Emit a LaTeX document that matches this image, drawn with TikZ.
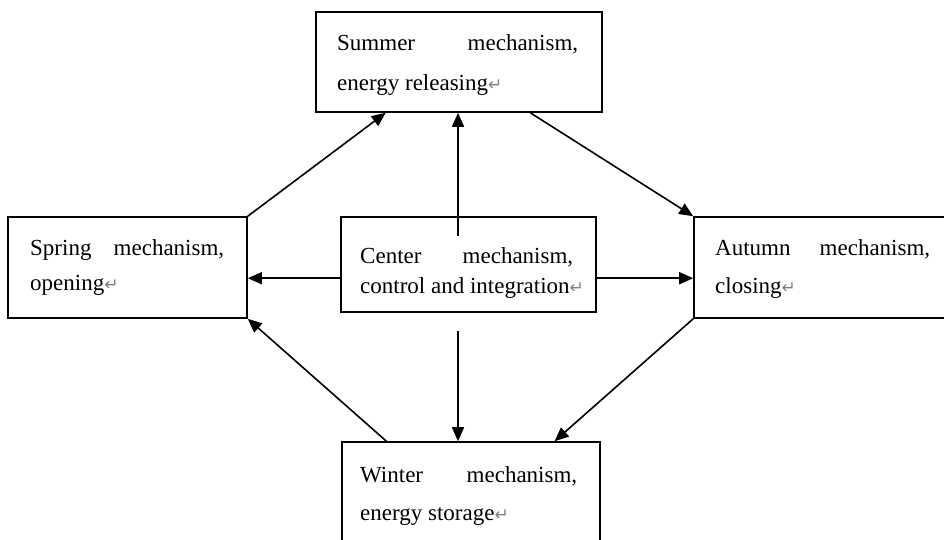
\documentclass[tikz,border=0pt]{standalone}
\usepackage{fontspec}
\setmainfont{Liberation Serif}
\newfontfamily\symfont{DejaVu Sans}
\usetikzlibrary{arrows.meta,calc}
\newcommand\crmark{{\symfont\fontsize{17}{17}\selectfont\textcolor{gray}{↵}}}
\begin{document}
\begin{tikzpicture}[x=1pt,y=-1pt,
  box/.style={draw=black, line width=1.6pt, rectangle, inner sep=0pt},
  txt/.style={inner sep=0pt, font=\fontsize{23}{27}\selectfont, text=black},
  arr/.style={line width=1.6pt, draw=black, -{Triangle[length=14pt,width=12pt]}},
]
\clip (0,0) rectangle (944,539);
\fill[white] (0,0) rectangle (944,539);

% boxes
\node[box, minimum width=286pt, minimum height=100pt] (summer) at (459,62) {};
\node[box, minimum width=239pt, minimum height=101pt] (spring) at (127.5,267.5) {};
\node[box, minimum width=255pt, minimum height=95pt] (center) at (468.5,264.5) {};
\node[box, minimum width=266pt, minimum height=101pt] (autumn) at (827,267.5) {};
\node[box, minimum width=258pt, minimum height=118pt] (winter) at (471,501) {};

% texts
\node[txt, anchor=base west] (sumA) at (337,50) {\makebox[241pt][s]{Summer mechanism,}};
\node[txt, anchor=base west] (sumB) at (337,90) {energy releasing\crmark};
\node[txt, anchor=base west] (sprA) at (30,255) {\makebox[194pt][s]{Spring mechanism,}};
\node[txt, anchor=base west] (sprB) at (30,290) {opening\crmark};
\node[txt, anchor=base west] (cenA) at (360,263) {\makebox[213pt][s]{Center mechanism,}};
\node[txt, anchor=base west] (cenB) at (360,293) {control and integration\crmark};
\node[txt, anchor=base west] (autA) at (715,255) {\makebox[215pt][s]{Autumn mechanism,}};
\node[txt, anchor=base west] (autB) at (715,293) {closing\crmark};
\node[txt, anchor=base west] (winA) at (360,482) {\makebox[217pt][s]{Winter mechanism,}};
\node[txt, anchor=base west] (winB) at (360,520) {energy storage\crmark};

% cycle arrows
\draw[arr] (spring.north east) -- ($(summer.south west)!0.245!(summer.south east)$);
\draw[arr] ($(summer.south west)!0.748!(summer.south east)$) -- (autumn.north west);
\draw[arr] (autumn.south west) -- ($(winter.north west)!0.822!(winter.north east)$);
\draw[arr] ($(winter.north west)!0.174!(winter.north east)$) -- (spring.south east);

% center arrows
\coordinate (cup) at (458,236);
\coordinate (cdown) at (458,331);
\coordinate (lh) at ($(center.south west)!0.358!(center.north west)$);
\draw[arr] (cup) -- (cup |- summer.south);
\draw[arr] (cdown) -- (cdown |- winter.north);
\draw[arr] (lh) -- (lh -| spring.east);
\draw[arr] (lh -| center.east) -- (lh -| autumn.west);
\end{tikzpicture}
\end{document}
